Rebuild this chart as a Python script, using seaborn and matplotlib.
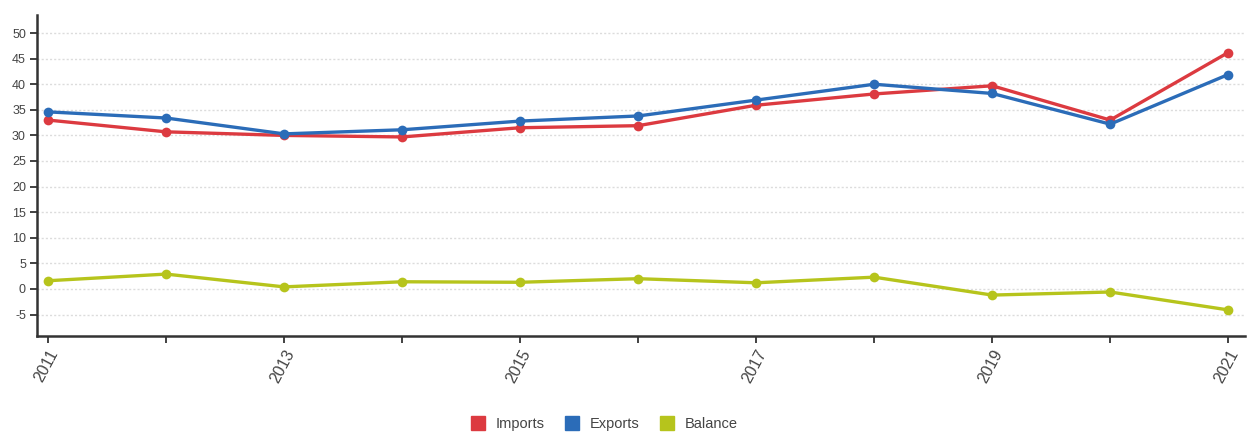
import matplotlib
matplotlib.use("Agg")
import matplotlib.pyplot as plt
import seaborn as sns
import pandas as pd

years = [2011, 2012, 2013, 2014, 2015, 2016, 2017, 2018, 2019, 2020, 2021]
imports = [33.0, 30.7, 30.0, 29.7, 31.5, 31.9, 35.9, 38.1, 39.7, 33.0, 46.2]
exports = [34.6, 33.4, 30.3, 31.1, 32.8, 33.8, 36.9, 40.0, 38.2, 32.2, 41.9]
balance = [1.6, 2.9, 0.4, 1.4, 1.3, 2.0, 1.2, 2.3, -1.2, -0.6, -4.1]
series_names = ["Imports", "Exports", "Balance"]
colors = ["#dc3a40", "#2b6cb8", "#b6c41c"]
ytick_vals = list(range(-5, 51, 5))

df = pd.concat([
    pd.DataFrame({"year": years, "value": imports, "series": "Imports"}),
    pd.DataFrame({"year": years, "value": exports, "series": "Exports"}),
    pd.DataFrame({"year": years, "value": balance, "series": "Balance"}),
])

sns.set_theme(style="white")
plt.rcParams["font.family"] = ["Liberation Sans", "DejaVu Sans"]

fig = plt.figure(figsize=(12.51, 4.33), dpi=100)
ax = fig.add_axes([0.0296, 0.224, 0.9654, 0.741])

# gridlines
for v in ytick_vals:
    ax.axhline(v, color="#dcdcdc", lw=1.0, ls=(0, (1.5, 1.5)), zorder=0)

sns.lineplot(data=df, x="year", y="value", hue="series", hue_order=series_names,
             palette=colors, marker="o", markersize=7, markeredgewidth=0,
             linewidth=2.4, ax=ax, legend=False, zorder=3)

ax.set_xlim(2010.907, 2021.14)
ax.set_ylim(-9.2, 53.5)
ax.set_xticks(years)
ax.set_xticklabels([str(y) if y % 2 == 1 else "" for y in years], rotation=62,
                   ha="right", rotation_mode="anchor", fontsize=11.5, color="#444444")
ax.set_yticks(ytick_vals)
ax.set_yticklabels([str(v) for v in ytick_vals], fontsize=9, color="#444444")
ax.tick_params(axis="both", direction="out", length=5, width=1.3, color="#333333",
               bottom=True, left=True, pad=3)
ax.set_xlabel("")
ax.set_ylabel("")
for s in ["top", "right"]:
    ax.spines[s].set_visible(False)
for s in ["left", "bottom"]:
    ax.spines[s].set_color("#333333")
    ax.spines[s].set_linewidth(1.8)

handles = [plt.Line2D([], [], marker="s", ls="", color=c, markersize=10) for c in colors]
fig.legend(handles, series_names, loc="center", bbox_to_anchor=(0.48, 0.02),
           ncol=3, frameon=False, fontsize=10.5, handletextpad=0.2, columnspacing=0.9,
           labelcolor="#444444")

fig.savefig("out.png", dpi=100)
